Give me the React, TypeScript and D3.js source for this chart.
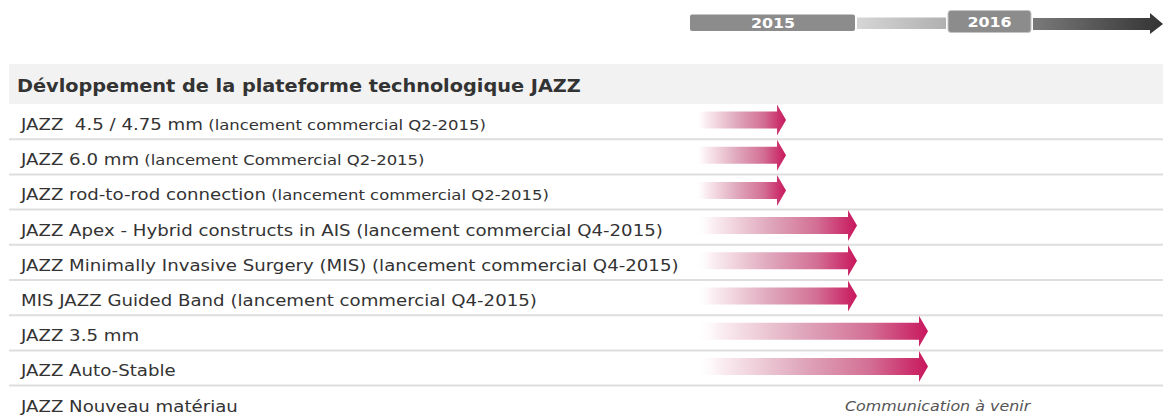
import React from "react";
import * as d3 from "d3";

const rowLabels = [
  "JAZZ  4.5 / 4.75 mm",
  "JAZZ 6.0 mm",
  "JAZZ rod-to-rod connection",
  "JAZZ Apex - Hybrid constructs in AIS (lancement commercial Q4-2015)",
  "JAZZ Minimally Invasive Surgery (MIS) (lancement commercial Q4-2015)",
  "MIS JAZZ Guided Band (lancement commercial Q4-2015)",
  "JAZZ 3.5 mm",
  "JAZZ Auto-Stable",
  "JAZZ Nouveau matériau",
];
const rowNotes = [
  "(lancement commercial Q2-2015)",
  "(lancement Commercial Q2-2015)",
  "(lancement commercial Q2-2015)",
  "",
  "",
  "",
  "",
  "",
  "",
];
// launch time (end of quarter, fractional year); null = no arrow
const launchTimes: (number | null)[] = [2015.5, 2015.5, 2015.5, 2016.0, 2016.0, 2016.0, 2016.5, 2016.5, null];
const pendingNote = "Communication à venir";
const title = "Dévloppement de la plateforme technologique JAZZ";
const yearLabels = ["2015", "2016"];

const W = 1163;
const H = 416;
const FONT = "'DejaVu Sans', Verdana, sans-serif";
const SX = 1.135;

const tf = (x: number, y: number) => `translate(${x},${y}) scale(${SX},1)`;

export default function App() {
  const x = d3.scaleLinear().domain([2015.5, 2016.5]).range([786, 928]);
  const arrowStart = x(2014.865);
  const headerTop = 64;
  const headerBottom = 104;
  const rowH = 35.2;
  const y = (i: number) => headerBottom + i * rowH;
  const shaftH = 17;
  const headH = 31;
  const headL = 9;

  const arrowPath = (xt: number, cy: number) => {
    const xs = xt - headL;
    return `M${arrowStart},${cy - shaftH / 2}L${xs},${cy - shaftH / 2}L${xs},${cy - headH / 2}L${xt},${cy}L${xs},${cy + headH / 2}L${xs},${cy + shaftH / 2}L${arrowStart},${cy + shaftH / 2}Z`;
  };

  return (
    <svg
      width={W}
      height={H}
      style={{ position: "absolute", left: 0, top: 0, background: "#fff" }}
      fontFamily={FONT}
    >
      <defs>
        <linearGradient id="pink" x1="0" x2="1" y1="0" y2="0">
          <stop offset="0%" stopColor="#ffffff" stopOpacity={0} />
          <stop offset="10%" stopColor="#fbeff3" stopOpacity={1} />
          <stop offset="45%" stopColor="#e0a9bd" />
          <stop offset="75%" stopColor="#d36f94" />
          <stop offset="100%" stopColor="#c8175d" />
        </linearGradient>
        <linearGradient id="lightSeg" x1="0" x2="1" y1="0" y2="0">
          <stop offset="0%" stopColor="#d6d6d6" />
          <stop offset="100%" stopColor="#b0b0b0" />
        </linearGradient>
        <linearGradient id="darkArrow" x1="0" x2="1" y1="0" y2="0">
          <stop offset="0%" stopColor="#7a7a7a" />
          <stop offset="100%" stopColor="#333333" />
        </linearGradient>
      </defs>

      {/* timeline header */}
      <rect x={690} y={14.5} width={165} height={16.5} rx={2} fill="#8c8c8c" />
      <text transform={tf(773, 28)} textAnchor="middle" fill="#fff" fontWeight="bold" fontSize={14}>
        {yearLabels[0]}
      </text>
      <rect x={857} y={17.5} width={89} height={11.5} fill="url(#lightSeg)" />
      <rect x={948} y={10.5} width={83} height={22} rx={3} fill="#8c8c8c" stroke="#c4c4c4" strokeWidth={1} />
      <text transform={tf(989.5, 27)} textAnchor="middle" fill="#fff" fontWeight="bold" fontSize={14}>
        {yearLabels[1]}
      </text>
      <path d="M1033,18L1150,18L1150,13L1163,24L1150,34L1150,30L1033,30Z" fill="url(#darkArrow)" />

      {/* header band */}
      <rect x={9} y={headerTop} width={W - 9} height={headerBottom - headerTop} fill="#f2f2f2" />
      <text transform={tf(17, 92)} fontWeight="bold" fontSize={17} fill="#333">
        {title}
      </text>

      {/* row separators */}
      {rowLabels.slice(0, rowLabels.length - 1).map((_, i) => (
        <line key={"l" + i} x1={9} x2={W} y1={y(i + 1)} y2={y(i + 1)} stroke="#dedede" strokeWidth={2} />
      ))}

      {/* arrows */}
      {launchTimes.map((t, i) =>
        t == null ? null : <path key={"a" + i} d={arrowPath(x(t), y(i) + 16)} fill="url(#pink)" />
      )}

      {/* labels */}
      {rowLabels.map((lab, i) => (
        <text key={"t" + i} transform={tf(21, y(i) + 26)} fontSize={16} fill="#333" style={{ whiteSpace: "pre" }} xmlSpace="preserve">
          <tspan>{lab}</tspan>
          {rowNotes[i] ? <tspan fontSize={14.5}>{" " + rowNotes[i]}</tspan> : null}
        </text>
      ))}

      <text transform={tf(845, y(8) + 25)} fontSize={14} fontStyle="italic" fill="#555">
        {pendingNote}
      </text>
    </svg>
  );
}
